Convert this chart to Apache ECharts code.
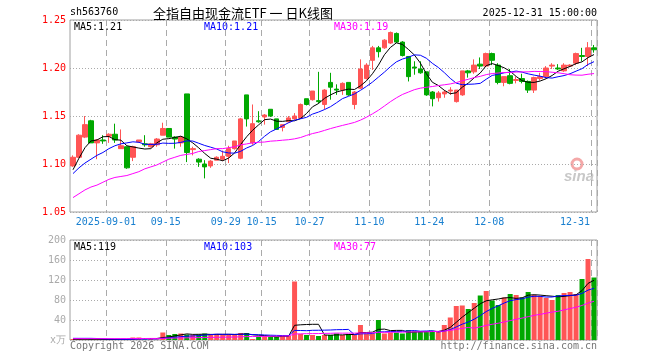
<!DOCTYPE html>
<html><head><meta charset="utf-8">
<script src="https://cdn.jsdelivr.net/npm/echarts@6/dist/echarts.min.js"></script>
<style>html,body{margin:0;padding:0;background:#fff}#c{width:660px;height:360px}</style>
</head><body><div id="c"></div>
<script>
const dates = [
'2025-08-22','2025-08-25','2025-08-26','2025-08-27','2025-08-28','2025-08-29',
'2025-09-01','2025-09-02','2025-09-03','2025-09-04','2025-09-05','2025-09-08','2025-09-09','2025-09-10','2025-09-11','2025-09-12',
'2025-09-15','2025-09-16','2025-09-17','2025-09-18','2025-09-19','2025-09-22','2025-09-23','2025-09-24','2025-09-25','2025-09-26',
'2025-09-29','2025-09-30','2025-10-09','2025-10-10','2025-10-13','2025-10-14','2025-10-15','2025-10-16','2025-10-17',
'2025-10-20','2025-10-21','2025-10-22','2025-10-23','2025-10-24','2025-10-27','2025-10-28','2025-10-29','2025-10-30','2025-10-31',
'2025-11-03','2025-11-04','2025-11-05','2025-11-06','2025-11-07','2025-11-10','2025-11-11','2025-11-12','2025-11-13','2025-11-14',
'2025-11-17','2025-11-18','2025-11-19','2025-11-20','2025-11-21','2025-11-24','2025-11-25','2025-11-26','2025-11-27','2025-11-28',
'2025-12-01','2025-12-02','2025-12-03','2025-12-04','2025-12-05','2025-12-08','2025-12-09','2025-12-10','2025-12-11','2025-12-12',
'2025-12-15','2025-12-16','2025-12-17','2025-12-18','2025-12-19','2025-12-22','2025-12-23','2025-12-24','2025-12-25','2025-12-26',
'2025-12-29','2025-12-30','2025-12-31'];

// [open, close, low, high]
const ohlc = [
[1.098,1.107,1.097,1.109],[1.107,1.130,1.106,1.131],[1.128,1.141,1.127,1.150],[1.145,1.122,1.122,1.146],
[1.122,1.125,1.105,1.126],[1.125,1.124,1.121,1.130],[1.129,1.131,1.122,1.132],[1.131,1.125,1.122,1.142],
[1.116,1.119,1.116,1.136],[1.118,1.096,1.095,1.118],[1.107,1.118,1.103,1.119],[1.123,1.125,1.122,1.125],
[1.121,1.120,1.118,1.130],[1.118,1.121,1.117,1.122],[1.120,1.126,1.118,1.127],[1.130,1.137,1.130,1.143],
[1.137,1.128,1.128,1.137],[1.128,1.126,1.116,1.129],[1.122,1.128,1.118,1.129],[1.173,1.112,1.102,1.173],
[1.115,1.116,1.109,1.118],[1.105,1.102,1.097,1.106],[1.100,1.097,1.085,1.104],[1.098,1.103,1.096,1.104],
[1.104,1.107,1.104,1.108],[1.105,1.108,1.103,1.114],[1.108,1.116,1.101,1.119],[1.116,1.124,1.115,1.124],
[1.106,1.147,1.105,1.148],[1.172,1.147,1.139,1.172],[1.122,1.142,1.120,1.162],[1.145,1.144,1.143,1.155],
[1.149,1.151,1.141,1.152],[1.157,1.150,1.149,1.157],[1.147,1.136,1.136,1.147],[1.138,1.141,1.134,1.141],
[1.144,1.148,1.143,1.150],[1.147,1.150,1.146,1.153],[1.148,1.162,1.147,1.163],[1.168,1.162,1.161,1.168],
[1.167,1.176,1.166,1.176],[1.166,1.165,1.163,1.196],[1.162,1.177,1.157,1.178],[1.185,1.180,1.167,1.195],
[1.178,1.177,1.172,1.183],[1.177,1.184,1.172,1.185],[1.185,1.172,1.171,1.185],[1.162,1.175,1.157,1.176],
[1.179,1.199,1.178,1.209],[1.189,1.203,1.188,1.205],[1.208,1.221,1.198,1.223],[1.221,1.217,1.211,1.223],
[1.221,1.229,1.220,1.230],[1.226,1.237,1.225,1.238],[1.236,1.227,1.226,1.237],[1.227,1.213,1.212,1.228],
[1.212,1.191,1.186,1.212],[1.201,1.200,1.193,1.207],[1.199,1.195,1.194,1.207],[1.196,1.172,1.171,1.196],
[1.175,1.168,1.160,1.176],[1.169,1.174,1.165,1.176],[1.173,1.175,1.169,1.177],[1.176,1.177,1.172,1.180],
[1.165,1.177,1.164,1.177],[1.172,1.197,1.171,1.197],[1.197,1.195,1.190,1.198],[1.196,1.203,1.194,1.209],
[1.204,1.202,1.199,1.211],[1.202,1.215,1.202,1.216],[1.215,1.208,1.203,1.216],[1.203,1.185,1.183,1.205],
[1.185,1.191,1.181,1.191],[1.192,1.184,1.183,1.199],[1.187,1.188,1.184,1.191],[1.189,1.186,1.184,1.194],
[1.186,1.177,1.174,1.187],[1.177,1.190,1.174,1.191],[1.189,1.191,1.187,1.195],[1.191,1.200,1.189,1.202],
[1.202,1.203,1.199,1.205],[1.200,1.199,1.198,1.204],[1.197,1.203,1.196,1.205],[1.202,1.203,1.201,1.204],
[1.205,1.215,1.203,1.216],[1.213,1.212,1.207,1.221],[1.212,1.221,1.202,1.227],[1.221,1.219,1.216,1.224]];

// volume, 万
const volume = [
2,2,1,1,1,1,1,1,2,1,5,5,1,3,1,15,10,12,13,11,10,11,13,11,11,11,11,11,14,14,
2,7,8,7,7,8,8,117,12,10,10,8,10,10,13,10,12,10,30,13,13,40,13,15,15,13,20,17,17,17,
17,17,30,45,68,69,62,74,89,98,79,70,85,92,90,85,96,90,88,84,80,90,94,96,92,122,162,125];

const ma5Head = [1.094,1.106,1.117,1.124];
const ma10Head = [1.090,1.096,1.101,1.105,1.109,1.112,1.116,1.119,1.121];
const ma30Head = [1.065,1.069,1.073,1.076,1.078,1.081,1.084,1.086,1.087,1.088,1.090,1.092,1.095,1.097,1.099,
1.102,1.105,1.107,1.109,1.110,1.111,1.113,1.114,1.115,1.116,1.116,1.117,1.118,1.120];
const vma5Head = [1.5,1.5,1.5,1.4];
const vma10Head = [3.3,3.3,3.3,3.3,3.0,2.5,2.0,1.8,1.5];
const vma30Head = [2.7,2.7,2.7,2.7,2.7,2.7,2.7,2.7,2.8,2.8,2.9,3.0,3.0,3.1,3.1,3.4,3.6,3.9,4.2,4.4,4.6,4.8,5.0,5.2,5.4,5.6,5.8,6.0,6.4];

const tickDates = ['2025-09-01','2025-09-15','2025-09-29','2025-10-15','2025-10-27','2025-11-10','2025-11-24','2025-12-08','2025-12-31'];
const tickTexts = ['2025-09-01','09-15','09-29','10-15','10-27','11-10','11-24','12-08','12-31'];

function ma(vals, n, head){
  return vals.map((v,i)=>{
    if(i < n-1) return head[i];
    let s=0; for(let k=i-n+1;k<=i;k++) s+=vals[k];
    return +(s/n).toFixed(4);
  });
}
const closes = ohlc.map(d=>d[1]);
const ma5 = ma(closes,5,ma5Head), ma10 = ma(closes,10,ma10Head), ma30 = ma(closes,30,ma30Head);
const vma5 = ma(volume,5,vma5Head), vma10 = ma(volume,10,vma10Head), vma30 = ma(volume,30,vma30Head);

const RED='#ff5555', GREEN='#00a800';
const MONO='"DejaVu Sans Mono", "Liberation Mono", monospace';
const tickSet = new Set(tickDates);

const chart = echarts.init(document.getElementById('c'), null, {renderer:'canvas'});
const xBase = {
  type:'category', data:dates, boundaryGap:true,
  axisLine:{show:false}, axisTick:{show:false},
  splitLine:{show:true, interval:(i,v)=>tickSet.has(v), lineStyle:{color:'#aaa', type:[6,4], width:1}}
};
chart.setOption({
  animation:false,
  textStyle:{fontFamily:MONO},
  grid:[
    {left:70, right:63, top:20, height:192, show:true, borderColor:'#a0a0a0', borderWidth:1, backgroundColor:'transparent'},
    {left:70, right:63, top:240, height:100, show:true, borderColor:'#a0a0a0', borderWidth:1, backgroundColor:'transparent'}
  ],
  xAxis:[
    Object.assign({}, xBase, {gridIndex:0,
      axisLabel:{show:true, interval:(i,v)=>tickSet.has(v), margin:5, color:'#1a80d0', fontSize:10, fontFamily:MONO,
        formatter:(v)=>{const t=tickTexts[tickDates.indexOf(v)]; return v==='2025-12-31' ? '{r|'+t+'}' : '{c|'+t+'}';},
        rich:{c:{padding:[0,6,0,0], color:'#1a80d0', fontSize:10, fontFamily:MONO}, r:{padding:[0,38,0,0], color:'#1a80d0', fontSize:10, fontFamily:MONO}}}}),
    Object.assign({}, xBase, {gridIndex:1, axisLabel:{show:false}})
  ],
  yAxis:[
    {gridIndex:0, min:1.05, max:1.25, interval:0.05, axisLine:{show:false}, axisTick:{show:false},
     axisLabel:{color:'#ff0000', fontSize:10, fontFamily:MONO, margin:4, formatter:v=>v.toFixed(2)},
     splitLine:{lineStyle:{color:'#aaa', type:[1,2]}}},
    {gridIndex:1, min:0, max:200, interval:40, axisLine:{show:false}, axisTick:{show:false},
     axisLabel:{color:'#aaaaaa', fontSize:10, fontFamily:MONO, margin:4, formatter:v=>v===0?'x万':String(v)},
     splitLine:{lineStyle:{color:'#aaa', type:[1,2]}}}
  ],
  series:[
    {type:'candlestick', xAxisIndex:0, yAxisIndex:0, data:ohlc, barWidth:5,
     itemStyle:{color:RED, color0:GREEN, borderColor:RED, borderColor0:GREEN, borderWidth:1}},
    {type:'line', xAxisIndex:0, yAxisIndex:0, data:ma5, symbol:'none', lineStyle:{color:'#000', width:1}},
    {type:'line', xAxisIndex:0, yAxisIndex:0, data:ma10, symbol:'none', lineStyle:{color:'#0000ff', width:1}},
    {type:'line', xAxisIndex:0, yAxisIndex:0, data:ma30, symbol:'none', lineStyle:{color:'#ff00ff', width:1}},
    {type:'bar', xAxisIndex:1, yAxisIndex:1, barWidth:5,
     data:volume.map((v,i)=>({value:v, itemStyle:{color: ohlc[i][1]>=ohlc[i][0] ? RED : GREEN}}))},
    {type:'line', xAxisIndex:1, yAxisIndex:1, data:vma5, symbol:'none', lineStyle:{color:'#000', width:1}},
    {type:'line', xAxisIndex:1, yAxisIndex:1, data:vma10, symbol:'none', lineStyle:{color:'#0000ff', width:1}},
    {type:'line', xAxisIndex:1, yAxisIndex:1, data:vma30, symbol:'none', lineStyle:{color:'#ff00ff', width:1}}
  ],
  graphic:[
    {type:'text', left:70, top:7, style:{text:'sh563760', font:'10px '+MONO, fill:'#000'}},
    {type:'text', x:243, y:13, style:{text:'全指自由现金流ETF 一 日K线图', font:'13px "Noto Sans CJK SC"', fill:'#000', textAlign:'center', textVerticalAlign:'middle'}},
    {type:'text', x:597, y:13, style:{text:'2025-12-31 15:00:00', font:'10px '+MONO, fill:'#000', textAlign:'right', textVerticalAlign:'middle'}},
    {type:'text', x:74, y:27, style:{text:'MA5:'+ma5[ma5.length-1].toFixed(2), font:'10px '+MONO, fill:'#000', textVerticalAlign:'middle'}},
    {type:'text', x:204, y:27, style:{text:'MA10:'+ma10[ma10.length-1].toFixed(2), font:'10px '+MONO, fill:'#0000ff', textVerticalAlign:'middle'}},
    {type:'text', x:334, y:27, style:{text:'MA30:'+ma30[ma30.length-1].toFixed(2), font:'10px '+MONO, fill:'#ff00ff', textVerticalAlign:'middle'}},
    {type:'text', x:74, y:247, style:{text:'MA5:'+Math.round(vma5[vma5.length-1]), font:'10px '+MONO, fill:'#000', textVerticalAlign:'middle'}},
    {type:'text', x:204, y:247, style:{text:'MA10:'+Math.round(vma10[vma10.length-1]), font:'10px '+MONO, fill:'#0000ff', textVerticalAlign:'middle'}},
    {type:'text', x:334, y:247, style:{text:'MA30:'+Math.round(vma30[vma30.length-1]), font:'10px '+MONO, fill:'#ff00ff', textVerticalAlign:'middle'}},
    {type:'text', x:70, y:346, style:{text:'Copyright 2026 SINA.COM', font:'10px '+MONO, fill:'#777', textVerticalAlign:'middle'}},
    {type:'text', x:597, y:346, style:{text:'http://finance.sina.com.cn', font:'10px '+MONO, fill:'#777', textAlign:'right', textVerticalAlign:'middle'}},
    {type:'circle', shape:{cx:577, cy:164, r:5}, style:{fill:'none', stroke:'#f4a8a8', lineWidth:3}, silent:true},
    {type:'text', x:579, y:177, style:{text:'sina', font:'italic bold 15px "Liberation Sans"', fill:'#c8c8c8', textAlign:'center', textVerticalAlign:'middle'}}
  ]
});
</script></body></html>
